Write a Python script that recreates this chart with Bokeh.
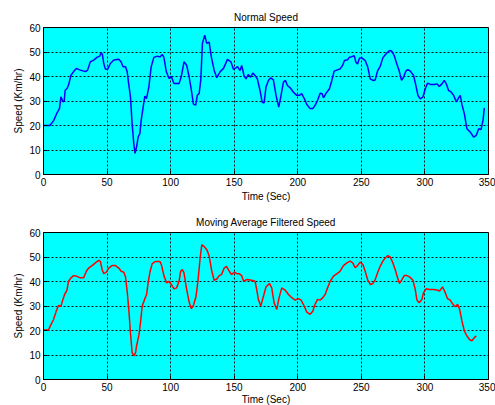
from bokeh.plotting import figure
from bokeh.layouts import column
from bokeh.models import Range1d, FixedTicker
from bokeh.embed import file_html
from bokeh.resources import INLINE

# ---- data ----
normal_time = [0, 5, 8, 10.5, 12.6, 13.7, 15.3, 16.3, 17, 18.4, 19.7, 21.6, 23.7, 25.8, 29, 33, 34.7,
               36.8, 39.5, 42, 44.2, 45.3, 46.3, 47.4, 48.7, 50.5, 52.6, 55.3, 59.2, 61, 62.6, 64.5,
               65.8, 67, 68.4, 69.7, 71, 72, 73.2, 74.5, 75.8, 76.8, 78.4, 79.7, 81, 82.9, 84.7, 86.8,
               89.5, 91.6, 93.4, 94.7, 96.6, 98.7, 100.5, 102.6, 106.6, 108.4, 110.5, 112.6, 114.5,
               116.3, 117.9, 119.7, 121, 122.4, 123.7, 125, 126.8, 128.4, 130.3, 132, 134.2, 136.3,
               139, 141.6, 144.7, 147.4, 149.5, 152.6, 154.6, 155.9, 157.7, 159.3, 161, 162.9, 164.6,
               166.4, 168.2, 170.3, 171.9, 173.5, 175, 176.9, 178.7, 180.8, 182.9, 185, 186.6, 188.7,
               190.3, 191.9, 194, 196.6, 199.2, 201.3, 203.1, 205.2, 207.1, 209.7, 211.8, 213.6,
               215.5, 217.6, 219.2, 220.2, 222.3, 224.9, 226.8, 228.6, 231.2, 233.3, 235.2, 236.7,
               239.1, 240.7, 242.5, 244.4, 245.7, 247, 248.6, 250.4, 253, 254.9, 257, 259.1, 260.9,
               262.7, 264.8, 266.9, 268.8, 270.6, 272.2, 274, 275.9, 277.9, 279.8, 281.6, 283.2, 285,
               286.6, 288.5, 291.1, 292.9, 294.5, 296.3, 298.4, 300.3, 302.1, 304.7, 307.3, 309.4,
               311.3, 313.4, 315.2, 316.8, 318.6, 320.7, 322.6, 324.7, 326.5, 327.8, 329.1, 331, 333,
               335.7, 338.3, 340.4, 342.3, 344.1, 345.7, 346.7]
normal_speed = [20, 20, 22, 25, 27, 31.7, 29.7, 30, 34.4, 35, 36.5, 40.5, 42, 43.3, 42.6, 42, 42.6,
                46, 46.7, 47.8, 48.3, 49.7, 49, 45.3, 43, 43, 45.3, 46.7, 47, 46, 44, 44,
                42, 37, 31.7, 20.8, 12.7, 8.6, 11.3, 15.4, 16.7, 22, 27.6, 32, 31, 35.8, 44, 47.8,
                48.3, 48, 49, 47.8, 42, 39.2, 40.1, 37.1, 37.1, 40, 46, 44.6, 40,
                34.4, 28.7, 28.3, 32.4, 33, 38.5, 53.5, 56.9, 53.5, 54, 48, 42.6, 39.5,
                42, 43.3, 47, 46, 42.9, 44, 42.4, 44.5, 40.4, 39, 40.8, 39.7, 41.4,
                40.4, 39, 34.3, 29.6, 29.2, 35.7, 38.4, 39.5, 38.6, 32.3, 27.5, 31.6, 37.7,
                38.4, 36.3, 35.4, 33.6, 32.3, 32.3, 33, 30.9, 28.6, 26.9, 26.9, 28.2,
                30.2, 33.2, 33, 31.3, 33.2, 35, 38.4, 42.2, 42.7, 43.1, 44.5, 46.5,
                46.8, 47.9, 48.1, 48.5, 45.8, 45.1, 47.6, 47.6, 46.5, 44.1, 39, 38.4, 38.6,
                42.2, 44.1, 47.6, 48.9, 49.9, 50.6, 50.3, 48.5, 45.1, 42.2, 38.4, 39.7, 42.2,
                42.8, 42.2, 40.4, 36.3, 32.3, 30.9, 31.6, 35, 37.3, 36.7, 36.7, 37,
                35.9, 37, 38.4, 37, 34.3, 33.6, 32.3, 29.6, 31.3, 32.3, 28.6, 24.8, 18.7,
                17.3, 15.3, 16, 18.7, 18.3, 22.1, 27.2]

filtered_time = [0, 3.9, 5.3, 7.9, 10, 11.8, 13.7, 15.3, 16.6, 18.4, 19.7, 21.6, 23.7, 26.3, 29, 31.6,
                 33.7, 35.5, 38.2, 40.8, 43.4, 44.7, 46.1, 47.4, 49.5, 51.3, 53.9, 56.6, 59.2, 61.1,
                 63.2, 64.5, 65.8, 67.1, 68.4, 69.7, 71.1, 72.4, 73.2, 75, 76.3, 77.6, 79.5, 81.1,
                 82.1, 83.7, 85.5, 88.2, 91.6, 92.9, 94.7, 96.8, 98.7, 100.5, 102.6, 104.7, 106.6,
                 107.9, 109.2, 110.5, 112.6, 114.7, 116.3, 117.9, 120, 121.6, 123.2, 124.5, 126.3,
                 128.4, 130.3, 132.1, 134.2, 136.3, 138.2, 140, 142.1, 143.9, 146.1, 147.9, 150,
                 152.1, 153.9, 155.8, 157.4, 159.8, 163.8, 166.4, 167.7, 169, 170.9, 173, 175,
                 177.7, 179.5, 181.4, 183.5, 185.3, 187.4, 190, 192.7, 195.3, 197.9, 200.5, 202.6,
                 205, 207.1, 209.7, 211.8, 213.6, 215.5, 217.6, 219.7, 221.5, 223.4, 225.5, 228.1,
                 231.2, 233.3, 235.9, 238.6, 241.2, 243.3, 245.1, 247, 249.1, 251.2, 253, 254.9,
                 257, 259.1, 260.9, 262.7, 264.8, 266.9, 268.8, 270.9, 272.7, 274.8, 276.6, 278.5,
                 280, 281.9, 283.7, 285.8, 287.9, 290.6, 292.4, 293.7, 295.5, 297.6, 298.9, 301,
                 303.7, 306.8, 309.4, 311.5, 313.9, 316, 317.8, 319.9, 322, 323.9, 325.7, 327.3,
                 329.1, 331, 333, 335.2, 337, 338.9, 340.4]
filtered_speed = [20.2, 20.2, 21.8, 24.5, 27.9, 30.2, 29.9, 32.7, 34.7, 36.4, 40.1, 41.5, 42.4, 42.1,
                  41.5, 41.5, 44.2, 45.5, 46.5, 47.6, 48.6, 48.2, 44.9, 43.2, 43.8, 45.5, 46.5,
                  46.5, 45.5, 44.2, 43.8, 41.9, 36, 28.6, 19.1, 11, 9.6, 11, 13.7, 18, 23.2, 29.9,
                  32.7, 34.7, 38.8, 43.8, 47.3, 48.2, 48.2, 46.5, 42.4, 39.4, 40.1, 38.8, 37, 37.4,
                  40.1, 44.2, 44.9, 43.5, 36.7, 31.3, 28.9, 30.2, 34, 40.8, 49.6, 55, 54.3, 53,
                  50.5, 44.9, 40.5, 41, 42.4, 42.8, 45.5, 46.2, 44.2, 42.8, 43.8, 43.2, 43.2, 42.4,
                  40.1, 40.8, 40.5, 40.1, 36.7, 32.7, 30, 34, 37.8, 39.2, 37.4, 31.3, 28.6, 33.4,
                  37.4, 36.5, 34.7, 33.4, 32.4, 33, 32.4, 30, 27.5, 26.6, 27.9, 30.7, 32.7, 32.4,
                  33.4, 34.7, 37.4, 40.1, 42.2, 43.3, 44.2, 46.5, 47.6, 48.3, 47.6, 45.6, 46.5,
                  47.9, 46.9, 44.2, 40.8, 38.8, 39.2, 40.8, 43.5, 46.2, 48.3, 49.6, 50.6, 50, 47.6,
                  44.9, 41.5, 39.2, 40.8, 42.4, 42.4, 41.9, 40.5, 36.7, 32.4, 31.3, 32.7, 35.4, 37,
                  36.7, 36.7, 36.5, 36.1, 37.8, 35.4, 33, 32.4, 30.7, 29.7, 30.7, 28.6, 23.9, 19.8,
                  17.8, 16.2, 15.8, 17.1, 17.8]

x_ticks = [0, 50, 100, 150, 200, 250, 300, 350]
y_ticks = [0, 10, 20, 30, 40, 50, 60]
titles = ["Normal Speed", "Moving Average Filtered Speed"]
x_label = "Time (Sec)"
y_label = "Speed (Km/hr)"

FONT = "Liberation Sans"


def make_panel(title, t, v, color, top_border, bottom_border, xlabel_standoff):
    p = figure(frame_width=445, frame_height=147,
               x_range=Range1d(0, 350), y_range=Range1d(0, 60),
               output_backend="svg", toolbar_location=None, title=title,
               min_border_left=43, min_border_right=7,
               min_border_top=top_border, min_border_bottom=bottom_border)
    p.background_fill_color = "#00FFFF"
    p.border_fill_color = "white"
    p.outline_line_color = "black"
    p.outline_line_width = 1

    p.title.align = "center"
    p.title.text_font = FONT
    p.title.text_font_size = "10px"
    p.title.text_font_style = "normal"
    p.title.text_color = "black"
    p.title.standoff = 9

    for ax, ticks, lab in ((p.xaxis, x_ticks, x_label), (p.yaxis, y_ticks, y_label)):
        ax.ticker = FixedTicker(ticks=ticks)
        ax.axis_label = lab
        ax.axis_label_text_font = FONT
        ax.axis_label_text_font_size = "10px"
        ax.axis_label_text_font_style = "normal"
        ax.axis_label_text_color = "black"
        ax.axis_label_standoff = 2
        ax.major_label_text_font = FONT
        ax.major_label_text_font_size = "10px"
        ax.major_label_text_color = "black"
        ax.major_label_standoff = 3
        ax.major_tick_in = 4
        ax.major_tick_out = 0
        ax.minor_tick_line_color = None
        ax.axis_line_color = "black"
        ax.major_tick_line_color = "black"
    p.xaxis.axis_label_standoff = xlabel_standoff

    for g, ticks in ((p.xgrid, x_ticks), (p.ygrid, y_ticks)):
        g.ticker = FixedTicker(ticks=ticks)
        g.grid_line_color = "black"
        g.grid_line_dash = "2 2"
        g.grid_line_width = 1
        g.grid_line_alpha = 0.9

    p.line(t, v, line_color=color, line_width=1.5)
    return p


p1 = make_panel(titles[0], normal_time, normal_speed, "#0000FF", 27, 36, 2)
p2 = make_panel(titles[1], filtered_time, filtered_speed, "#FF0000", 19, 24, 0)

layout = column(p1, p2, spacing=0)
open("out.html", "w").write(file_html(layout, INLINE))
